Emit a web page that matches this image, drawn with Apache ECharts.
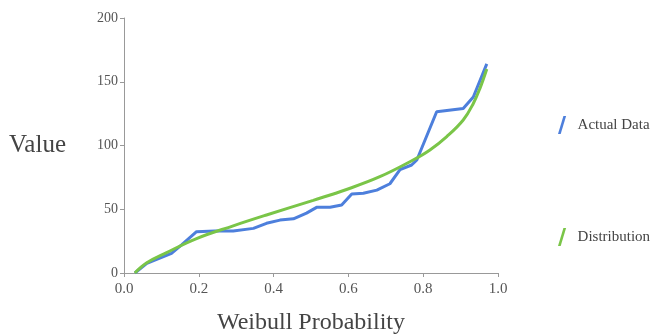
<!DOCTYPE html>
<html>
<head>
<meta charset="utf-8">
<script src="https://cdn.jsdelivr.net/npm/echarts@6/dist/echarts.min.js"></script>
<style>
  html, body { margin: 0; padding: 0; background: #fff; }
  #chart { width: 656px; height: 334px; }
</style>
</head>
<body>
<div id="chart"></div>
<script>
// 读图得到的数据
var actualX = [0.029, 0.061, 0.127, 0.154, 0.194, 0.243, 0.292, 0.346, 0.381, 0.417, 0.453, 0.488, 0.515, 0.551, 0.582, 0.609, 0.640, 0.676, 0.711, 0.738, 0.769, 0.783, 0.836, 0.907, 0.934, 0.970];
var actualY = [0, 7.6, 15.4, 22, 32.4, 33, 33, 35, 39, 41.5, 42.5, 47, 51.5, 51.5, 53.3, 62, 62.5, 65, 70, 81, 84.7, 88.6, 126.5, 129, 138, 164];

var distX = [0.029, 0.061, 0.114, 0.194, 0.292, 0.381, 0.506, 0.595, 0.684, 0.773, 0.818, 0.863, 0.907, 0.934, 0.952, 0.970];
var distY = [0, 8, 16, 27, 37, 45.5, 57, 65.5, 75.5, 88.6, 96.5, 107, 120, 133, 145, 160];

var xTicks = [0, 0.2, 0.4, 0.6, 0.8, 1.0];
var yTicks = [0, 50, 100, 150, 200];

function zip(xs, ys) {
    return xs.map(function (x, i) { return [x, ys[i]]; });
}

var myChart = echarts.init(document.getElementById('chart'));
var serif = '"Liberation Serif", "DejaVu Serif", serif';
var slash = 'path://M3,0 L4.5,0 L1.5,10 L0,10 Z';

var option = {
    animation: false,
    textStyle: { fontFamily: serif },
    grid: { left: 124, right: 158, top: 18, bottom: 61, outerBoundsMode: 'none', containLabel: false },
    legend: {
        orient: 'vertical',
        left: 553,
        top: 111,
        itemGap: 94,
        itemWidth: 9,
        itemHeight: 18,
        textStyle: { fontFamily: serif, fontSize: 15, color: '#444', padding: [0, 0, 0, 6] },
        data: [
            { name: 'Actual Data', icon: slash },
            { name: 'Distribution', icon: slash }
        ]
    },
    xAxis: {
        type: 'value',
        min: xTicks[0],
        max: xTicks[xTicks.length - 1],
        interval: 0.2,
        name: 'Weibull Probability',
        nameLocation: 'middle',
        nameGap: 38,
        nameTextStyle: { fontFamily: serif, fontSize: 24, color: '#444' },
        axisLine: { lineStyle: { color: '#999', width: 1 } },
        axisTick: { length: 4, lineStyle: { color: '#999' } },
        axisLabel: {
            fontFamily: serif, fontSize: 15, color: '#555', margin: 9,
            formatter: function (v) { return v.toFixed(1); }
        },
        splitLine: { show: false }
    },
    yAxis: {
        type: 'value',
        min: yTicks[0],
        max: yTicks[yTicks.length - 1],
        interval: 50,
        name: 'Value',
        nameLocation: 'middle',
        nameRotate: 0,
        nameGap: 58,
        nameTextStyle: { fontFamily: serif, fontSize: 25, color: '#444' },
        axisLine: { show: true, lineStyle: { color: '#999', width: 1 } },
        axisTick: { show: true, length: 4, lineStyle: { color: '#999' } },
        axisLabel: { fontFamily: serif, fontSize: 14, color: '#555', margin: 6 },
        splitLine: { show: false }
    },
    series: [
        {
            name: 'Actual Data',
            type: 'line',
            showSymbol: false,
            data: zip(actualX, actualY),
            color: '#4d7fdc',
            lineStyle: { width: 3, color: '#4d7fdc' },
            z: 2
        },
        {
            name: 'Distribution',
            type: 'line',
            showSymbol: false,
            smooth: 0.4,
            data: zip(distX, distY),
            color: '#7ac548',
            lineStyle: { width: 3, color: '#7ac548' },
            z: 3
        }
    ]
};
myChart.setOption(option);
</script>
</body>
</html>
